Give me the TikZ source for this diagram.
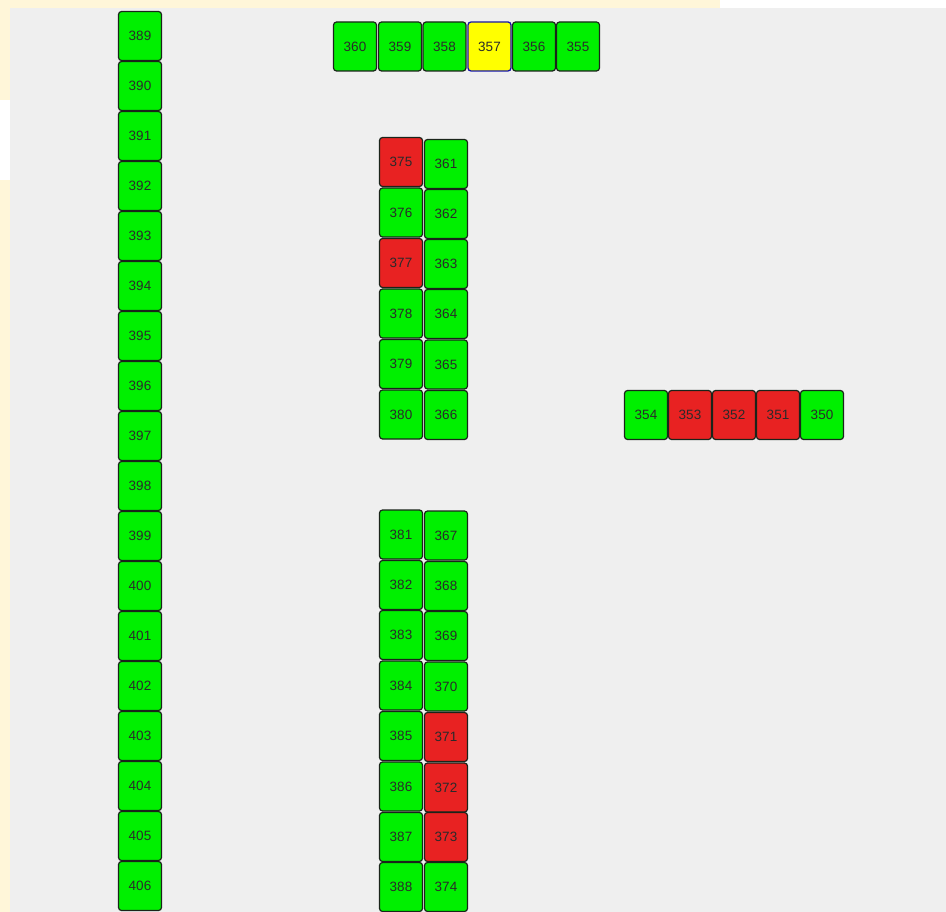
\documentclass[tikz,border=0pt]{standalone}
\usepackage{fontspec}
\setmainfont{Liberation Sans}
\definecolor{cream}{HTML}{FFF6D9}
\definecolor{panel}{HTML}{EFEFEF}
\definecolor{okgreen}{HTML}{00F000}
\definecolor{badred}{HTML}{E82222}
\definecolor{selyel}{HTML}{FFFF00}
\definecolor{edge}{HTML}{1A241A}
\definecolor{txt}{HTML}{2A2A2A}
\tikzset{
  cell/.style={draw=edge, line width=1.2pt, rounded corners=3pt, minimum width=43pt, minimum height=49pt, inner sep=0pt, font=\fontsize{13.5}{14}\selectfont, text=txt},
  gbox/.style={cell, fill=okgreen},
  rbox/.style={cell, fill=badred},
  ybox/.style={cell, fill=selyel, draw={rgb,255:red,20;green,20;blue,170}, line width=1.3pt}
}
\begin{document}
\begin{tikzpicture}[x=1pt,y=-1pt]
\useasboundingbox (0,0) rectangle (946,912);
\fill[cream] (0,0) rectangle (946,912);
\fill[white] (0,100) rectangle (10,180);
\fill[white] (720,0) rectangle (946,8);
\fill[panel] (10,8) rectangle (946,912);
% left column 389..406
\foreach \n [count=\i from 0] in {389,...,406} {
  \node[gbox] (c\n) at (140,{36+50*\i}) {\n};
}
% top row
\node[gbox] (c360) at (355,46.5) {360};
\node[gbox] (c359) at (400,46.5) {359};
\node[gbox] (c358) at (444.5,46.5) {358};
\node[ybox] (c357) at (489.5,46.5) {357};
\node[gbox] (c356) at (534,46.5) {356};
\node[gbox] (c355) at (578,46.5) {355};
% middle upper block
\node[rbox] (c375) at (401,162) {375};
\node[gbox] (c376) at (401,212.5) {376};
\node[rbox] (c377) at (401,263) {377};
\node[gbox] (c378) at (401,313.5) {378};
\node[gbox] (c379) at (401,364) {379};
\node[gbox] (c380) at (401,414.5) {380};
\node[gbox] (c361) at (446,164) {361};
\node[gbox] (c362) at (446,214) {362};
\node[gbox] (c363) at (446,264) {363};
\node[gbox] (c364) at (446,314) {364};
\node[gbox] (c365) at (446,364.5) {365};
\node[gbox] (c366) at (446,415) {366};
% middle lower block
\node[gbox] (c381) at (401,534.5) {381};
\node[gbox] (c382) at (401,585) {382};
\node[gbox] (c383) at (401,635) {383};
\node[gbox] (c384) at (401,685.5) {384};
\node[gbox] (c385) at (401,736) {385};
\node[gbox] (c386) at (401,786.5) {386};
\node[gbox] (c387) at (401,837) {387};
\node[gbox] (c388) at (401,887) {388};
\node[gbox] (c367) at (446,535.5) {367};
\node[gbox] (c368) at (446,586) {368};
\node[gbox] (c369) at (446,636) {369};
\node[gbox] (c370) at (446,686.5) {370};
\node[rbox] (c371) at (446,737) {371};
\node[rbox] (c372) at (446,787.5) {372};
\node[rbox] (c373) at (446,837) {373};
\node[gbox] (c374) at (446,887) {374};
% right row
\node[gbox] (c354) at (646,415) {354};
\node[rbox] (c353) at (690,415) {353};
\node[rbox] (c352) at (734,415) {352};
\node[rbox] (c351) at (778,415) {351};
\node[gbox] (c350) at (822,415) {350};
\end{tikzpicture}
\end{document}
